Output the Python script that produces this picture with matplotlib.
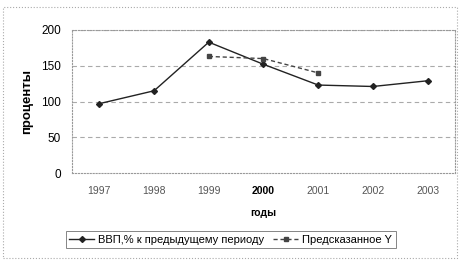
import matplotlib.pyplot as plt
from matplotlib.patches import Rectangle

plt.rcParams['font.family'] = ['Liberation Sans', 'DejaVu Sans']

# ---------- Data ----------
years = ['1997', '1998', '1999', '2000', '2001', '2002', '2003']
gdp = [97, 115, 183, 152, 123, 121, 129]          # ВВП, % к предыдущему периоду
pred_years = ['1999', '2000', '2001']
pred = [163, 160, 140]                            # Предсказанное Y
y_ticks = [0, 50, 100, 150, 200]

fig = plt.figure(figsize=(4.6, 2.6), dpi=100)
ax = fig.add_axes([72 / 460, 1 - 173 / 260, 383 / 460, 143 / 260])

x = list(range(len(years)))
px = [years.index(y) for y in pred_years]

ax.plot(x, gdp, color='#222222', linewidth=1.0, marker='D', markersize=3,
        label='ВВП,% к предыдущему периоду')
ax.plot(px, pred, color='#444444', linewidth=1.0, linestyle=(0, (3, 2)),
        marker='s', markersize=3.5, label='Предсказанное Y')

ax.set_xlim(-0.5, len(years) - 0.5)
ax.set_ylim(0, 200)
ax.set_xticks(x)
ax.set_xticklabels(years, fontsize=7.5, color='#555555')
ax.get_xticklabels()[3].set_color('black')
ax.get_xticklabels()[3].set_fontweight('bold')
ax.set_yticks(y_ticks)
ax.set_yticklabels([str(v) for v in y_ticks], fontsize=8.5)
ax.tick_params(axis='y', length=0, pad=8)
ax.tick_params(axis='x', length=0, pad=9)

for v in y_ticks[1:]:
    ax.axhline(v, color='#aaaaaa', linewidth=0.8, linestyle=(0, (4, 3)), zorder=0)

for s in ax.spines.values():
    s.set_color('#999999')
    s.set_linestyle(':')
    s.set_linewidth(0.8)

ax.set_xlabel('годы', fontsize=7.5, fontweight='bold', labelpad=9)
ax.set_ylabel('проценты', fontsize=9.5, fontweight='bold', labelpad=6)

leg = fig.legend(loc='lower left', bbox_to_anchor=(60 / 460, 6 / 260), ncol=2,
                 fontsize=8, frameon=True, fancybox=False, handlelength=2.2,
                 columnspacing=0.8, handletextpad=0.4, borderpad=0.35)
leg.get_frame().set_edgecolor('#666666')
leg.get_frame().set_linewidth(0.7)

# outer chart border (dotted, like the scan)
fig.patches.append(Rectangle((3 / 460, 2 / 260), 454 / 460, 251 / 260,
                             transform=fig.transFigure, fill=False,
                             edgecolor='#aaaaaa', linewidth=0.8, linestyle=':'))

fig.savefig('out.png', dpi=100)
